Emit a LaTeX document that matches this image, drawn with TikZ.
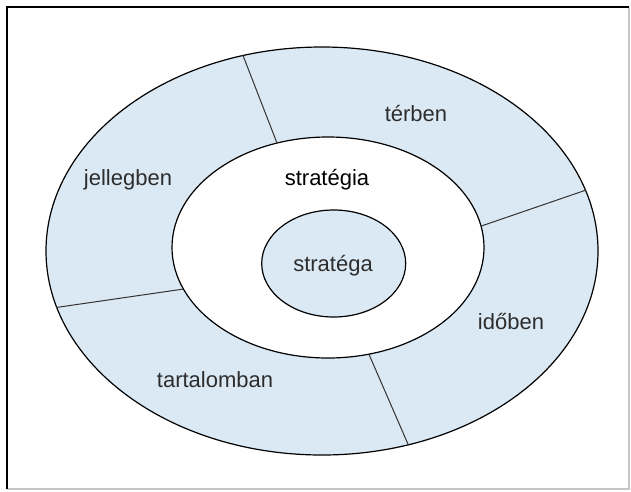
\documentclass[tikz,border=0pt]{standalone}
\usepackage{fontspec}
\setmainfont{Liberation Sans}
\usepackage{tikz}
\usetikzlibrary{shapes.geometric}
\definecolor{ringblue}{RGB}{219,233,244}
\definecolor{lblgray}{RGB}{45,45,45}

\begin{document}
\begin{tikzpicture}[x=1pt,y=-1pt,
  ring/.style={ellipse,draw=black,line width=1.2pt,inner sep=0pt},
  lbl/.style={anchor=base,text=lblgray,font=\fontsize{22}{26}\selectfont}]

\useasboundingbox (0,0) rectangle (631,491);

% frame
\draw[gray!45,line width=1.2pt] (629,7) -- (629,489) -- (7,489);
\draw[black,line width=1.4pt] (7,489) -- (7,7) -- (629,7);

\node(outer)[ring,fill=ringblue,minimum width=552pt,minimum height=408pt] at (322,251) {};
\node(inner)[ring,fill=white,minimum width=312pt,minimum height=221pt] at (328,247.5) {};
\node(core)[ring,fill=ringblue,minimum width=144pt,minimum height=107pt] at (333.7,263.5) {};

\draw[black!80,line width=1pt] (inner.116) -- (outer.112);
\draw[black!80,line width=1pt] (inner.8) -- (outer.13);
\draw[black!80,line width=1pt] (inner.291) -- (outer.294);
\draw[black!80,line width=1pt] (inner.196) -- (outer.192);

\node(terben)[lbl] at (416,121) {térben};
\node(jellegben)[lbl] at (128,185) {jellegben};
\node(strategia)[lbl,text=black] at (327,185) {stratégia};
\node(stratega)[lbl] at (333,271) {stratéga};
\node(idoben)[lbl] at (511,329) {időben};
\node(tartalomban)[lbl] at (215,387) {tartalomban};

\end{tikzpicture}
\end{document}
